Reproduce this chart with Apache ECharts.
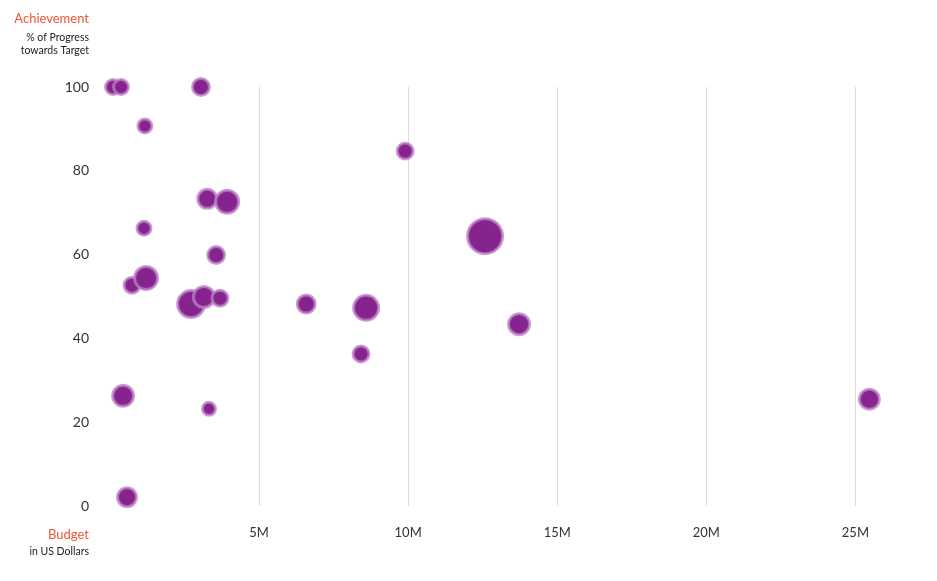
<!DOCTYPE html>
<html><head><meta charset="utf-8">
<script src="https://cdn.jsdelivr.net/npm/echarts@6/dist/echarts.min.js"></script>
<style>html,body{margin:0;padding:0;background:#fff}#c{width:937px;height:581px}</style>
</head><body><div id="c"></div>
<script>
// Budget (millions USD)
var budget = [0.10,0.37,3.05,1.17,9.90,3.26,3.93,1.14,3.56,12.58,0.74,1.21,2.72,3.15,3.69,6.58,8.59,13.72,8.42,0.44,3.32,0.57,25.47];
// Achievement (% of progress towards target)
var achievement = [100,100,100,90.7,84.7,73.3,72.6,66.3,59.9,64.4,52.7,54.4,48.2,49.9,49.6,48.2,47.3,43.4,36.3,26.3,23.2,2.1,25.5];
// Bubble magnitude (relative)
var magnitude = [18,18,20,17,19,22,26,17,20,38,19,26,30,24,19,21,28,24,19,24,16,22,23];
var xTicks = ['', '5M', '10M', '15M', '20M', '25M'];

var data = budget.map(function (b, i) { return [b * 1e6, achievement[i], magnitude[i]]; });

var chart = echarts.init(document.getElementById('c'));
chart.setOption({
  animation: false,
  textStyle: { fontFamily: 'Lato' },
  grid: { left: 110, right: 22, top: 87, bottom: 75 },
  xAxis: {
    type: 'value', min: 0, max: 27e6, interval: 5e6,
    axisLine: { show: false }, axisTick: { show: false },
    axisLabel: { color: '#333', fontSize: 13, margin: 20, fontFamily: 'Lato',
      showMaxLabel: false,
      formatter: function (v) { return (v % 5e6 === 0) ? (xTicks[v / 5e6] || '') : ''; } },
    splitLine: { show: true, showMinLine: false, showMaxLine: false, lineStyle: { color: '#dcdcdc', width: 1 } }
  },
  yAxis: {
    type: 'value', min: 0, max: 100, interval: 20,
    axisLine: { show: false }, axisTick: { show: false },
    axisLabel: { color: '#333', fontSize: 14, margin: 21, fontFamily: 'Lato' },
    splitLine: { show: false }
  },
  graphic: [
    { type: 'text', right: 848, top: 12, style: { text: 'Achievement', fill: '#ee5636', font: '13px Lato', textAlign: 'right' } },
    { type: 'text', right: 848, top: 31, style: { text: '% of Progress\ntowards Target', fill: '#222', font: '10.5px Lato', textAlign: 'right', lineHeight: 13 } },
    { type: 'text', right: 848, top: 528, style: { text: 'Budget', fill: '#ee5636', font: '13px Lato', textAlign: 'right' } },
    { type: 'text', right: 848, top: 546, style: { text: 'in US Dollars', fill: '#222', font: '10.5px Lato', textAlign: 'right' } }
  ],
  series: [{
    type: 'scatter',
    data: data,
    symbolSize: function (d) { return d[2] - 3; },
    itemStyle: { color: '#86248d', opacity: 1, borderColor: 'rgba(190,130,200,0.75)', borderWidth: 3 }
  }]
});
</script></body></html>
